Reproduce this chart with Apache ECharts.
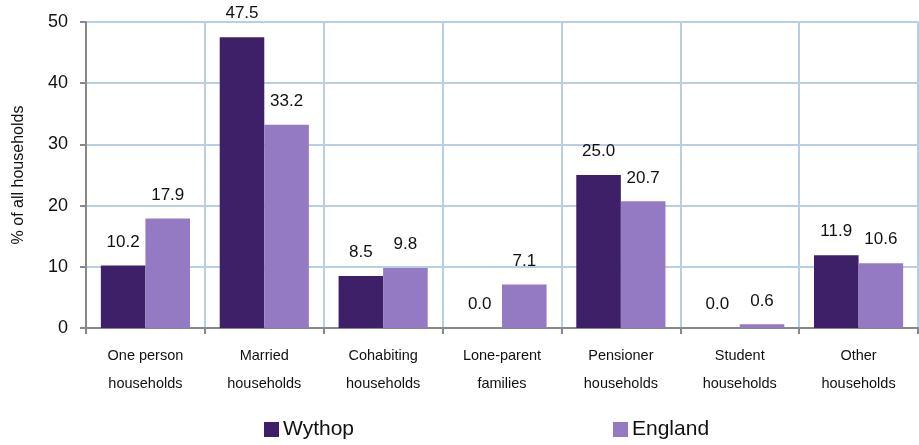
<!DOCTYPE html>
<html><head><meta charset="utf-8">
<script src="https://cdn.jsdelivr.net/npm/echarts@6/dist/echarts.min.js"></script>
<style>html,body{margin:0;padding:0;background:#fff}#c{width:919px;height:445px}</style>
</head><body><div id="c"></div>
<script>
const categories = ["One person\nhouseholds","Married\nhouseholds","Cohabiting\nhouseholds","Lone-parent\nfamilies","Pensioner\nhouseholds","Student\nhouseholds","Other\nhouseholds"];
const wythop = [10.2, 47.5, 8.5, 0.0, 25.0, 0.0, 11.9];
const england = [17.9, 33.2, 9.8, 7.1, 20.7, 0.6, 10.6];
const yTicks = {min: 0, max: 50, interval: 10};

const font = "'Liberation Sans', Arial, sans-serif";
const chart = echarts.init(document.getElementById('c'), null, {renderer: 'canvas'});
const lbl = {show: true, position: 'top', distance: 15, color: '#111', fontSize: 17, fontFamily: font,
  formatter: p => p.value.toFixed(1)};
chart.setOption({
  animation: false,
  textStyle: {fontFamily: font},
  grid: {left: 86, right: 1, top: 22, bottom: 117, containLabel: false},
  legend: {
    top: 419, left: 264, padding: 0, itemWidth: 15, itemHeight: 15, itemGap: 259,
    textStyle: {fontSize: 21, color: '#111', fontFamily: font, padding: [0,0,0,-1]},
    data: ['Wythop', 'England'], icon: 'rect'
  },
  xAxis: {
    type: 'category', data: categories,
    axisLine: {lineStyle: {color: '#888', width: 2}},
    axisTick: {show: true, length: 6, lineStyle: {color: '#888', width: 2}},
    splitLine: {show: true, lineStyle: {color: '#b9cde5', width: 2}},
    axisLabel: {fontSize: 14.5, color: '#111', lineHeight: 28, margin: 14, fontFamily: font}
  },
  yAxis: {
    type: 'value', min: yTicks.min, max: yTicks.max, interval: yTicks.interval,
    name: '% of all households', nameLocation: 'middle', nameGap: 59, nameRotate: 90,
    nameTextStyle: {fontSize: 16, color: '#111', fontFamily: font},
    axisLine: {show: true, lineStyle: {color: '#888', width: 2}},
    axisTick: {show: true, length: 6, lineStyle: {color: '#888', width: 2}},
    splitLine: {show: true, lineStyle: {color: '#b9cde5', width: 2}},
    axisLabel: {fontSize: 18, color: '#111', margin: 18, fontFamily: font}
  },
  series: [
    {name: 'Wythop', type: 'bar', data: wythop, barGap: '0%', barCategoryGap: '25%',
     itemStyle: {color: '#3d2068'}, label: lbl},
    {name: 'England', type: 'bar', data: england, barGap: '0%', barCategoryGap: '25%',
     itemStyle: {color: '#9479c3'}, label: lbl}
  ]
});
</script></body></html>
